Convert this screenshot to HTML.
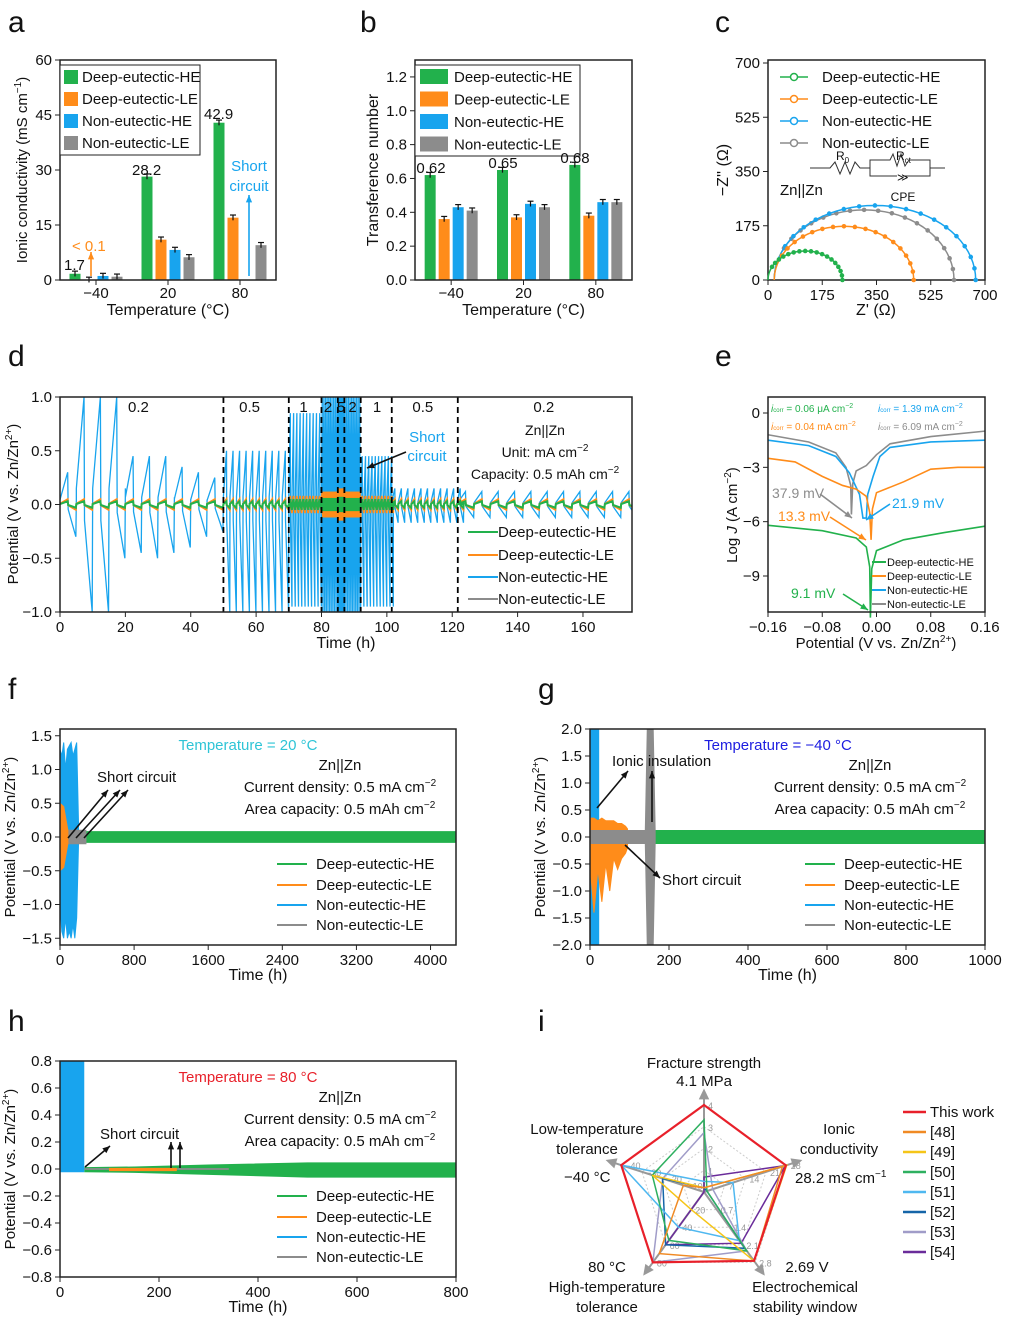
<!DOCTYPE html>
<html><head><meta charset="utf-8"><style>
body{margin:0;background:#fff}
svg{display:block;font-family:"Liberation Sans",sans-serif}
</style></head><body>
<svg id="fig" width="1009" height="1320" viewBox="0 0 1009 1320" xmlns="http://www.w3.org/2000/svg"></svg>
<script>
// ---------- data ----------
const tempCats=['−40','20','80'];
const condGreen=[1.7,28.2,42.9], condOrange=[0.05,11.0,17.0], condBlue=[1.1,8.2,0], condGray=[0.9,6.2,9.5];
const tnGreen=[0.62,0.65,0.68], tnOrange=[0.36,0.37,0.38], tnBlue=[0.43,0.45,0.46], tnGray=[0.41,0.43,0.46];
const eisStart=[0,20,20,20], eisEnd=[240,470,670,600], eisRatio=[0.78,0.77,0.74,0.78];
const segT0=[0,50,70,80,85,87,92,101.5,121.7], segT1=[50,70,80,85,87,92,101.5,121.7,175];
const segRate=[0.2,0.5,1,2,5,2,1,0.5,0.2];
const blueHiSeg=[0.4,0.5,0.85,1,1,1,0.45,0.15,0.12], blueLoSeg=[-0.4,-1,-0.95,-1,-1,-1,-0.95,-0.17,-0.12];
const blueHiFirst=[0.3,1,1,1,0.45,0.45,0.45,0.35,0.3,0.25], blueLoFirst=[-0.3,-1,-1,-0.5,-0.45,-0.5,-0.45,-0.4,-0.3,-0.25];
const greenAmp=[0.03,0.03,0.05,0.06,0.07,0.06,0.05,0.03,0.03], orangeAmp=[0.05,0.05,0.08,0.12,0.15,0.12,0.08,0.05,0.05], grayAmp=[0.04,0.05,0.07,0.09,0.09,0.09,0.07,0.04,0.04];
const tafGreen=[[-0.16,-6.2],[-0.08,-6.5],[-0.03,-6.9],[-0.015,-7.4],[-0.01,-8.5],[-0.009,-11.3],[-0.007,-8.6],[0,-7.6],[0.04,-7.0],[0.1,-6.6],[0.16,-6.25]];
const tafOrange=[[-0.16,-2.5],[-0.12,-2.7],[-0.08,-3.5],[-0.05,-4.0],[-0.03,-4.2],[-0.015,-4.6],[-0.01,-5.5],[-0.008,-7.0],[-0.006,-5.3],[0,-4.4],[0.04,-3.8],[0.08,-3.1],[0.12,-3.0],[0.16,-3.0]];
const tafBlue=[[-0.16,-1.5],[-0.1,-1.8],[-0.06,-2.4],[-0.04,-3.3],[-0.025,-4.5],[-0.02,-5.8],[-0.015,-5.8],[-0.013,-4.5],[-0.005,-3.5],[0.005,-2.4],[0.02,-1.9],[0.08,-1.6],[0.16,-1.5]];
const tafGray=[[-0.16,-1.2],[-0.1,-1.6],[-0.06,-2.2],[-0.045,-3.0],[-0.038,-4.0],[-0.037,-5.6],[-0.035,-3.9],[-0.03,-3.2],[-0.015,-2.9],[0,-2.3],[0.02,-1.7],[0.08,-1.3],[0.16,-1.0]];
const fGreenT=[40,4275], fGreenHi=[0.08,0.08], fGreenLo=[-0.08,-0.08];
const fBlueT=[0,20,40,60,80,100,120,140,160,180,200], fBlueHi=[1.3,1.2,1.4,1.0,1.3,1.35,1.4,1.2,1.3,1.4,0.2], fBlueLo=[-1.0,-1.4,-1.5,-1.2,-1.5,-1.4,-1.5,-1.3,-1.5,-1.2,-0.1];
const fOrangeT=[0,40,85], fOrangeHi=[0.5,0.45,0.1], fOrangeLo=[-0.5,-0.45,-0.1];
const fGrayT=[0,280], fGrayHi=[0.1,0.1], fGrayLo=[-0.1,-0.1];
const gGreenT=[0,1000], gGreenHi=[0.12,0.12], gGreenLo=[-0.12,-0.12];
const gBlueT=[0,22], gBlueHi=[2,2], gBlueLo=[-2,-2];
const gOrangeT=[0,10,20,30,40,50,60,70,80,90,95], gOrangeHi=[0.35,0.35,0.3,0.35,0.3,0.3,0.3,0.25,0.25,0.2,0.15], gOrangeLo=[-0.5,-1.4,-0.6,-1.2,-0.5,-1.0,-0.4,-0.6,-0.4,-0.3,-0.2];
const gGrayT=[0,140,145,160,165], gGrayHi=[0.12,0.12,2,2,0.12], gGrayLo=[-0.12,-0.12,-2,-2,-0.12];
const hGreenT=[50,150,300,500,800], hGreenHi=[0.01,0.015,0.03,0.045,0.045], hGreenLo=[-0.02,-0.025,-0.04,-0.06,-0.06];
const hBlueT=[0,48], hBlueHi=[0.8,0.8], hBlueLo=[-0.02,-0.02];
const hOrangeT=[100,235], hOrangeHi=[0.005,0.005], hOrangeLo=[-0.012,-0.012];
const hGrayT=[0,340], hGrayHi=[0.003,0.003], hGrayLo=[-0.003,-0.003];
const radarAxes=['Fracture strength','Ionic conductivity','Electrochemical stability window','High-temperature tolerance','Low-temperature tolerance'];
const radarMax=[4.1,28.5,2.75,80,40];
const radarNames=['This work','[48]','[49]','[50]','[51]','[52]','[53]','[54]'];
const radarColors=['#e8202a','#f08a24','#f5c518','#2eb060','#4fb8f0','#1565a8','#a09cc8','#6a2c9a'];
const radarVals=[[4.1,28.2,2.69,80,40],[0.2,27,2.7,70,10],[0.2,28.5,2.7,20,25],[3.4,1,2.3,55,25],[0.5,10,1.9,40,40],[0.2,1,2.2,60,20],[2.8,3,2.3,80,20],[0.7,28,2.0,60,0]];

const C={g:'#22b14c',o:'#ff8c1a',b:'#18a4ee',k:'#8c8c8c'};
const NS='http://www.w3.org/2000/svg';
const svg=document.getElementById('fig');
function add(p,tag,attrs,name){
  const el=document.createElementNS(NS,tag);
  for(const k in attrs) el.setAttribute(k,attrs[k]);
  
  
  p.appendChild(el);return el;
}
function text(p,x,y,s,o,name){
  o=o||{};
  const t=add(p,'text',{x:x,y:y,'font-size':o.size||15,fill:o.fill||'#111','text-anchor':o.anchor||'start'},name);
  if(o.rot) t.setAttribute('transform','rotate(-90 '+x+' '+y+')');
  t.innerHTML=s;return t;
}
function lin(d0,d1,r0,r1){return v=>r0+(v-d0)*(r1-r0)/(d1-d0);}
function frame(g,x0,x1,y0,y1,name){add(g,'rect',{x:x0,y:y0,width:x1-x0,height:y1-y0,fill:'none',stroke:'#222','stroke-width':1.5},name);}
function xticks(g,sx,vals,labels,y1,name){vals.forEach((v,i)=>{add(g,'line',{x1:sx(v),x2:sx(v),y1:y1,y2:y1+5,stroke:'#222'},name+'-tick');text(g,sx(v),y1+20,labels[i],{anchor:'middle'},name+'-label');});}
function yticks(g,sy,vals,labels,x0,name){vals.forEach((v,i)=>{add(g,'line',{x1:x0-5,x2:x0,y1:sy(v),y2:sy(v),stroke:'#222'},name+'-tick');text(g,x0-8,sy(v)+5,labels[i],{anchor:'end'},name+'-label');});}
function arrow(g,x1,y1,x2,y2,col,name){
  add(g,'line',{x1:x1,y1:y1,x2:x2,y2:y2,stroke:col,'stroke-width':1.6},name);
  const a=Math.atan2(y2-y1,x2-x1),L=8;
  const p=[[x2,y2],[x2-L*Math.cos(a-0.4),y2-L*Math.sin(a-0.4)],[x2-L*Math.cos(a+0.4),y2-L*Math.sin(a+0.4)]];
  add(g,'polygon',{points:p.map(q=>q.join(',')).join(' '),fill:col},name+'-head');
}
function band(g,sx,sy,T,H,L,col,name){
  let pts=T.map((t,i)=>sx(t)+','+sy(H[i]));
  for(let i=T.length-1;i>=0;i--) pts.push(sx(T[i])+','+sy(L[i]));
  add(g,'polygon',{points:pts.join(' '),fill:col,stroke:col,'stroke-width':1},name);
}
const legNames=['Deep-eutectic-HE','Deep-eutectic-LE','Non-eutectic-HE','Non-eutectic-LE'];
const legCols=[C.g,C.o,C.b,C.k];
function lineLegend(g,x,ys,xt,name){legNames.forEach((n,i)=>{add(g,'line',{x1:x,x2:x+30,y1:ys[i],y2:ys[i],stroke:legCols[i],'stroke-width':2},name+'-line');text(g,xt,ys[i]+5,n,{},name+'-text');});}

// letters
[['a',8,32],['b',360,32],['c',715,32],['d',8,366],['e',715,366],['f',8,699],['g',538,699],['h',8,1031],['i',538,1031]].forEach(l=>text(svg,l[1],l[2],l[0],{size:30},'panel-letter-'+l[0]));

// ---------- bar panels ----------
function barPanel(x0,x1,y0,y1,dom,yt,ytl,series,name){
  const g=add(svg,'g',{},name);
  const sy=lin(0,dom,y1,y0);const bw=(x1-x0)/3;
  const cols=[C.g,C.o,C.b,C.k];const offs=[-21,-7,7,21];
  series.forEach((s,si)=>s.forEach((v,i)=>{
    if(v<=0) return;
    const cx=x0+(i+0.5)*bw+offs[si];
    add(g,'rect',{x:cx-5.5,y:sy(v),width:11,height:y1-sy(v),fill:cols[si]},name+'-bar');
    const e=dom*0.012;
    add(g,'line',{x1:cx,x2:cx,y1:sy(v+e),y2:sy(v-e),stroke:'#111','stroke-width':1.2},name+'-errorbar');
    add(g,'line',{x1:cx-3,x2:cx+3,y1:sy(v+e),y2:sy(v+e),stroke:'#111','stroke-width':1.2},name+'-errorcap');
  }));
  frame(g,x0,x1,y0,y1,name+'-frame');
  tempCats.forEach((c,i)=>{const cx=x0+(i+0.5)*bw;add(g,'line',{x1:cx,x2:cx,y1:y1,y2:y1+5,stroke:'#222'},name+'-xtick');text(g,cx,y1+18,c,{anchor:'middle'},name+'-xlabel');});
  yticks(g,sy,yt,ytl,x0,name+'-y');
  text(g,(x0+x1)/2,y1+35,'Temperature (°C)',{anchor:'middle',size:16},name+'-x-title');
  return {g,sy};
}
let A=barPanel(60,276,60,280,60,[0,15,30,45,60],['0','15','30','45','60'],[condGreen,condOrange,condBlue,condGray],'panel-a');
text(A.g,27,170,'Ionic conductivity (mS cm<tspan dy="-6" font-size="10">−1</tspan><tspan dy="6">)</tspan>',{rot:1,anchor:'middle',size:15},'a-y-title');
add(A.g,'rect',{x:60,y:65,width:140,height:90,fill:'#fff',stroke:'#222'},'a-legend-box');
legNames.forEach((n,i)=>{add(A.g,'rect',{x:64,y:70+i*22,width:14,height:14,fill:legCols[i]},'a-legend-swatch');text(A.g,82,82+i*22,n,{},'a-legend-text');});
text(A.g,64,270,'1.7',{},'a-value-label');text(A.g,132,175,'28.2',{},'a-value-label');text(A.g,204,119,'42.9',{},'a-value-label');
text(A.g,72,251,'&lt; 0.1',{fill:C.o},'a-annotation');arrow(A.g,91,276,91,252,C.o,'a-arrow');
text(A.g,249,171,'Short',{fill:C.b,anchor:'middle'},'a-annotation');text(A.g,249,191,'circuit',{fill:C.b,anchor:'middle'},'a-annotation');arrow(A.g,249,276,249,195,C.b,'a-arrow');

let B=barPanel(415,632,60,280,1.3,[0,0.2,0.4,0.6,0.8,1.0,1.2],['0.0','0.2','0.4','0.6','0.8','1.0','1.2'],[tnGreen,tnOrange,tnBlue,tnGray],'panel-b');
text(B.g,378,170,'Transference number',{rot:1,anchor:'middle',size:16},'b-y-title');
add(B.g,'rect',{x:415,y:65,width:165,height:91,fill:'#fff',stroke:'#222'},'b-legend-box');
legNames.forEach((n,i)=>{add(B.g,'rect',{x:420,y:69+i*22.5,width:28,height:15,fill:legCols[i]},'b-legend-swatch');text(B.g,454,82+i*22.5,n,{},'b-legend-text');});
text(B.g,431,173,'0.62',{anchor:'middle'},'b-value-label');text(B.g,503,168,'0.65',{anchor:'middle'},'b-value-label');text(B.g,575,163,'0.68',{anchor:'middle'},'b-value-label');

// ---------- panel c ----------
(function(){
  const g=add(svg,'g',{},'panel-c');const sx=lin(0,700,768,985),sy=lin(0,700,280,63);
  frame(g,768,985,60,280,'c-frame');
  xticks(g,sx,[0,175,350,525,700],['0','175','350','525','700'],280,'c-x');
  yticks(g,sy,[0,175,350,525,700],['0','175','350','525','700'],768,'c-y');
  text(g,876,315,"Z' (Ω)",{anchor:'middle',size:16},'c-x-title');
  text(g,728,170,"−Z'' (Ω)",{rot:1,anchor:'middle',size:16},'c-y-title');
  const cols=[C.g,C.o,C.b,C.k];
  [3,2,1,0].forEach(i=>{
    const r=(eisEnd[i]-eisStart[i])/2,c=eisStart[i]+r;let pts=[],mk=[];
    for(let k=0;k<=40;k++){const a=Math.PI-k*Math.PI/40;const x=c+r*Math.cos(a),y=r*eisRatio[i]*Math.sin(a);pts.push(sx(x)+','+sy(y));if(k%2==0&&k>4)mk.push([sx(x),sy(y)]);}
    add(g,'polyline',{points:pts.join(' '),fill:'none',stroke:cols[i],'stroke-width':1.5},'c-nyquist-line');
    mk.forEach(m=>add(g,'circle',{cx:m[0],cy:m[1],r:2.3,fill:cols[i]},'c-nyquist-point'));
  });
  legNames.forEach((n,i)=>{const y=77+i*22;add(g,'line',{x1:780,x2:808,y1:y,y2:y,stroke:legCols[i],'stroke-width':1.5},'c-legend-line');add(g,'circle',{cx:794,cy:y,r:3.5,fill:'#fff',stroke:legCols[i],'stroke-width':1.5},'c-legend-marker');text(g,822,y+5,n,{},'c-legend-text');});
  add(g,'polyline',{points:'810,168 830,168 835,162 840,174 845,162 850,174 855,162 860,168 870,168 870,160 890,160 893,154 897,166 901,154 905,166 909,160 930,160 930,168 945,168 M870,168',fill:'none',stroke:'#333'},'c-circuit');
  add(g,'polyline',{points:'870,168 870,176 897,176 M903,176',fill:'none',stroke:'#333'},'c-circuit');
  add(g,'polyline',{points:'903,176 930,176 930,168',fill:'none',stroke:'#333'},'c-circuit');
  text(g,897,181,'≫',{size:11},'c-cpe-symbol');
  text(g,836,160,'R<tspan font-size="8" dy="3">0</tspan>',{size:12,anchor:'start'},'c-r0-label');
  text(g,896,160,'R<tspan font-size="8" dy="3">ct</tspan>',{size:12},'c-rct-label');
  text(g,903,201,'CPE',{size:12,anchor:'middle'},'c-cpe-label');
  text(g,780,195,'Zn||Zn',{},'c-cell-label');
})();

// ---------- panel d ----------
(function(){
  const g=add(svg,'g',{},'panel-d');const sx=lin(0,175,60,632),sy=lin(-1,1,612,397);
  add(g,'clipPath',{id:'clipd'},'d-clip').innerHTML='<rect x="60" y="397" width="572" height="215"/>';
  const gc=add(g,'g',{'clip-path':'url(#clipd)'},'d-series');
  function wave(hiF,loF,col,name,w){
    let pts=[];
    segT0.forEach((t0,s)=>{
      const P=1/segRate[s];let t=t0,c=0;
      while(t<segT1[s]-1e-6){
        const hi=hiF(s,c),lo=loF(s,c);
        pts.push([t,hi*0.15],[t+0.47*P,hi],[t+0.5*P,lo*0.15],[t+0.97*P,lo],[t+P,hi*0.15]);
        t+=P;c++;
      }
    });
    add(gc,'polyline',{points:pts.map(p=>sx(p[0])+','+sy(p[1])).join(' '),fill:'none',stroke:col,'stroke-width':w||1.3},name);
  }
  wave((s,c)=>s==0?blueHiFirst[c]:blueHiSeg[s],(s,c)=>s==0?blueLoFirst[c]:blueLoSeg[s],C.b,'d-series-non-eutectic-HE',1.3);
  wave((s)=>grayAmp[s],(s)=>-grayAmp[s],C.k,'d-series-non-eutectic-LE',1.5);
  wave((s)=>orangeAmp[s],(s)=>-orangeAmp[s],C.o,'d-series-deep-eutectic-LE',1.8);
  wave((s)=>greenAmp[s],(s)=>-greenAmp[s],C.g,'d-series-deep-eutectic-HE',2);
  [50,70,80,85,87,92,101.5,121.7].forEach(t=>add(g,'line',{x1:sx(t),x2:sx(t),y1:397,y2:612,stroke:'#000','stroke-width':1.8,'stroke-dasharray':'6,4'},'d-rate-divider'));
  [['0.2',24],['0.5',58],['1',74.5],['2',82],['5',86],['2',89.5],['1',97],['0.5',111],['0.2',148]].forEach(l=>text(g,sx(l[1]),412,l[0],{anchor:'middle'},'d-rate-label'));
  frame(g,60,632,397,612,'d-frame');
  xticks(g,sx,[0,20,40,60,80,100,120,140,160],['0','20','40','60','80','100','120','140','160'],612,'d-x');
  yticks(g,sy,[-1,-0.5,0,0.5,1],['−1.0','−0.5','0.0','0.5','1.0'],60,'d-y');
  text(g,346,648,'Time (h)',{anchor:'middle',size:16},'d-x-title');
  text(g,18,504,'Potential  (V vs. Zn/Zn<tspan dy="-6" font-size="10">2+</tspan><tspan dy="6">)</tspan>',{rot:1,anchor:'middle'},'d-y-title');
  text(g,545,435,'Zn||Zn',{anchor:'middle',size:14},'d-cell-label');
  text(g,545,457,'Unit: mA cm<tspan dy="-6" font-size="10">−2</tspan>',{anchor:'middle',size:14},'d-unit-label');
  text(g,545,479,'Capacity: 0.5 mAh cm<tspan dy="-6" font-size="10">−2</tspan>',{anchor:'middle',size:14},'d-capacity-label');
  text(g,427,442,'Short',{fill:C.b,anchor:'middle'},'d-annotation');text(g,427,461,'circuit',{fill:C.b,anchor:'middle'},'d-annotation');
  arrow(g,406,452,367,468,'#111','d-arrow');
  lineLegend(g,468,[532,555,577,599],498,'d-legend');
})();

// ---------- panel e ----------
(function(){
  const g=add(svg,'g',{},'panel-e');const sx=lin(-0.16,0.16,768,985),sy=lin(0,-9,413,576);
  [[tafGray,C.k],[tafBlue,C.b],[tafOrange,C.o],[tafGreen,C.g]].forEach((s,i)=>add(g,'polyline',{points:s[0].map(p=>sx(p[0])+','+sy(p[1])).join(' '),fill:'none',stroke:s[1],'stroke-width':1.6},'e-tafel-curve'));
  frame(g,768,985,397,612,'e-frame');
  xticks(g,sx,[-0.16,-0.08,0,0.08,0.16],['−0.16','−0.08','0.00','0.08','0.16'],612,'e-x');
  yticks(g,sy,[0,-3,-6,-9],['0','−3','−6','−9'],768,'e-y');
  text(g,876,648,'Potential  (V vs. Zn/Zn<tspan dy="-6" font-size="10">2+</tspan><tspan dy="6">)</tspan>',{anchor:'middle'},'e-x-title');
  text(g,737,515,'Log <tspan font-style="italic">J</tspan> (A cm<tspan dy="-6" font-size="10">−2</tspan><tspan dy="6">)</tspan>',{rot:1,anchor:'middle'},'e-y-title');
  text(g,771,412,'<tspan font-style="italic">i</tspan><tspan font-size="6">corr</tspan> = 0.06 μA cm<tspan dy="-4" font-size="7">−2</tspan>',{size:10,fill:C.g},'e-icorr-label');
  text(g,878,412,'<tspan font-style="italic">i</tspan><tspan font-size="6">corr</tspan> = 1.39 mA cm<tspan dy="-4" font-size="7">−2</tspan>',{size:10,fill:C.b},'e-icorr-label');
  text(g,771,430,'<tspan font-style="italic">i</tspan><tspan font-size="6">corr</tspan> = 0.04 mA cm<tspan dy="-4" font-size="7">−2</tspan>',{size:10,fill:C.o},'e-icorr-label');
  text(g,878,430,'<tspan font-style="italic">i</tspan><tspan font-size="6">corr</tspan> = 6.09 mA cm<tspan dy="-4" font-size="7">−2</tspan>',{size:10,fill:C.k},'e-icorr-label');
  text(g,772,498,'37.9 mV',{size:14,fill:C.k},'e-ocp-label');arrow(g,820,494,852,518,C.k,'e-arrow');
  text(g,778,521,'13.3 mV',{size:14,fill:C.o},'e-ocp-label');arrow(g,830,517,866,540,C.o,'e-arrow');
  text(g,892,508,'21.9 mV',{size:14,fill:C.b},'e-ocp-label');arrow(g,890,504,866,520,C.b,'e-arrow');
  text(g,791,598,'9.1 mV',{size:14,fill:C.g},'e-ocp-label');arrow(g,843,594,868,610,C.g,'e-arrow');
  legNames.forEach((n,i)=>{const y=562+i*14;add(g,'line',{x1:872,x2:886,y1:y,y2:y,stroke:legCols[i],'stroke-width':2},'e-legend-line');text(g,887,y+4,n,{size:11},'e-legend-text');});
})();

// ---------- cycling panels ----------
function cyc(name,x0,x1,y0,y1,xd,yd,xt,xtl,yt,ytl,bands,temp,tcol,infoX,legX){
  const g=add(svg,'g',{},name);const sx=lin(xd[0],xd[1],x0,x1),sy=lin(yd[0],yd[1],y1,y0);
  const cid=name+'-clip';add(g,'clipPath',{id:cid},name+'-clip').innerHTML='<rect x="'+x0+'" y="'+y0+'" width="'+(x1-x0)+'" height="'+(y1-y0)+'"/>';
  const gc=add(g,'g',{'clip-path':'url(#'+cid+')'},name+'-series');
  bands.forEach(b=>band(gc,sx,sy,b[0],b[1],b[2],b[3],name+'-'+b[4]));
  frame(g,x0,x1,y0,y1,name+'-frame');
  xticks(g,sx,xt,xtl,y1,name+'-x');yticks(g,sy,yt,ytl,x0,name+'-y');
  text(g,(x0+x1)/2,y1+35,'Time (h)',{anchor:'middle',size:16},name+'-x-title');
  text(g,x0-45,(y0+y1)/2,'Potential  (V vs. Zn/Zn<tspan dy="-6" font-size="10">2+</tspan><tspan dy="6">)</tspan>',{rot:1,anchor:'middle'},name+'-y-title');
  text(g,infoX-92,y0+21,'Temperature  = '+temp,{anchor:'middle',fill:tcol},name+'-temperature');
  text(g,infoX,y0+41,'Zn||Zn',{anchor:'middle'},name+'-cell');
  text(g,infoX,y0+63,'Current density:  0.5 mA cm<tspan dy="-6" font-size="10">−2</tspan>',{anchor:'middle'},name+'-current');
  text(g,infoX,y0+85,'Area capacity:  0.5 mAh cm<tspan dy="-6" font-size="10">−2</tspan>',{anchor:'middle'},name+'-capacity');
  lineLegend(g,legX,[y0+135,y0+156,y0+176,y0+196],legX+39,name+'-legend');
  return g;
}
const F=cyc('panel-f',60,456,729,945,[0,4275],[-1.6,1.6],[0,800,1600,2400,3200,4000],['0','800','1600','2400','3200','4000'],[-1.5,-1,-0.5,0,0.5,1,1.5],['−1.5','−1.0','−0.5','0.0','0.5','1.0','1.5'],
 [[fGreenT,fGreenHi,fGreenLo,C.g,'deep-eutectic-HE'],[fBlueT,fBlueHi,fBlueLo,C.b,'non-eutectic-HE'],[fGrayT,fGrayHi,fGrayLo,C.k,'non-eutectic-LE'],[fOrangeT,fOrangeHi,fOrangeLo,C.o,'deep-eutectic-LE']],'20 °C','#2ec4d6',340,277);
text(F,97,782,'Short circuit',{},'f-annotation');
arrow(F,68,838,108,790,'#111','f-arrow');arrow(F,76,838,120,790,'#111','f-arrow');arrow(F,84,838,128,790,'#111','f-arrow');
const G=cyc('panel-g',590,985,729,945,[0,1000],[-2,2],[0,200,400,600,800,1000],['0','200','400','600','800','1000'],[-2,-1.5,-1,-0.5,0,0.5,1,1.5,2],['−2.0','−1.5','−1.0','−0.5','0.0','0.5','1.0','1.5','2.0'],
 [[gGreenT,gGreenHi,gGreenLo,C.g,'deep-eutectic-HE'],[gBlueT,gBlueHi,gBlueLo,C.b,'non-eutectic-HE'],[gOrangeT,gOrangeHi,gOrangeLo,C.o,'deep-eutectic-LE'],[gGrayT,gGrayHi,gGrayLo,C.k,'non-eutectic-LE']],'−40 °C','#1d1de0',870,805);
text(G,612,766,'Ionic insulation',{},'g-annotation');arrow(G,597,808,628,771,'#111','g-arrow');arrow(G,652,822,652,771,'#111','g-arrow');
text(G,662,885,'Short circuit',{},'g-annotation');arrow(G,625,845,660,878,'#111','g-arrow');
const H=cyc('panel-h',60,456,1061,1277,[0,800],[-0.8,0.8],[0,200,400,600,800],['0','200','400','600','800'],[-0.8,-0.6,-0.4,-0.2,0,0.2,0.4,0.6,0.8],['−0.8','−0.6','−0.4','−0.2','0.0','0.2','0.4','0.6','0.8'],
 [[hGreenT,hGreenHi,hGreenLo,C.g,'deep-eutectic-HE'],[hGrayT,hGrayHi,hGrayLo,C.k,'non-eutectic-LE'],[hOrangeT,hOrangeHi,hOrangeLo,C.o,'deep-eutectic-LE'],[hBlueT,hBlueHi,hBlueLo,C.b,'non-eutectic-HE']],'80 °C','#e8202a',340,277);
text(H,100,1139,'Short circuit',{},'h-annotation');arrow(H,85,1167,110,1146,'#111','h-arrow');arrow(H,171,1168,171,1142,'#111','h-arrow');arrow(H,180,1168,180,1142,'#111','h-arrow');

// ---------- panel i radar ----------
(function(){
  const g=add(svg,'g',{},'panel-i');const cx=704,cy=1192,R=87;
  const ang=radarAxes.map((a,i)=>(-90+72*i)*Math.PI/180);
  const pt=(i,f)=>[cx+R*f*Math.cos(ang[i]),cy+R*f*Math.sin(ang[i])];
  [0.25,0.5,0.75,1].forEach(f=>add(g,'polygon',{points:ang.map((a,i)=>pt(i,f).join(',')).join(' '),fill:'none',stroke:'#ccc','stroke-dasharray':'2,2'},'i-grid'));
  ang.forEach((a,i)=>{const e=pt(i,1.12);add(g,'line',{x1:cx,y1:cy,x2:e[0],y2:e[1],stroke:'#999','stroke-width':2},'i-axis');
    const L=12,p=[[e[0]+6*Math.cos(a),e[1]+6*Math.sin(a)],[e[0]-L*Math.cos(a-0.45)+6*Math.cos(a),e[1]-L*Math.sin(a-0.45)+6*Math.sin(a)],[e[0]-L*Math.cos(a+0.45)+6*Math.cos(a),e[1]-L*Math.sin(a+0.45)+6*Math.sin(a)]];
    add(g,'polygon',{points:p.map(q=>q.join(',')).join(' '),fill:'#999'},'i-axis-head');});
  const tl=[['1','2','3','4'],['7','14','21','28'],['0.7','1.4','2.1','2.8'],['20','40','60','80'],['−10','−20','−30','−40']];
  tl.forEach((arr,i)=>arr.forEach((s,k)=>{const p=pt(i,(k+1)/4);text(g,p[0]+4,p[1]+4,s,{size:9,fill:'#999'},'i-tick-label');}));
  for(let s=radarVals.length-1;s>=0;s--){
    add(g,'polygon',{points:radarVals[s].map((v,i)=>pt(i,Math.min(v/radarMax[i],1.02)).join(',')).join(' '),fill:'none',stroke:radarColors[s],'stroke-width':s==0?2.2:1.5},'i-series-'+radarNames[s]);
  }
  text(g,704,1068,'Fracture strength',{anchor:'middle'},'i-axis-label');text(g,704,1086,'4.1 MPa',{anchor:'middle'},'i-axis-value');
  text(g,839,1134,'Ionic',{anchor:'middle'},'i-axis-label');text(g,839,1154,'conductivity',{anchor:'middle'},'i-axis-label');
  text(g,795,1183,'28.2 mS cm<tspan dy="-6" font-size="10">−1</tspan>',{},'i-axis-value');
  text(g,587,1134,'Low-temperature',{anchor:'middle'},'i-axis-label');text(g,587,1154,'tolerance',{anchor:'middle'},'i-axis-label');
  text(g,564,1182,'−40 °C',{},'i-axis-value');
  text(g,607,1272,'80 °C',{anchor:'middle'},'i-axis-value');text(g,607,1292,'High-temperature',{anchor:'middle'},'i-axis-label');text(g,607,1312,'tolerance',{anchor:'middle'},'i-axis-label');
  text(g,807,1272,'2.69 V',{anchor:'middle'},'i-axis-value');text(g,805,1292,'Electrochemical',{anchor:'middle'},'i-axis-label');text(g,805,1312,'stability window',{anchor:'middle'},'i-axis-label');
  radarNames.forEach((n,i)=>{const y=1112+i*20;add(g,'line',{x1:903,x2:926,y1:y,y2:y,stroke:radarColors[i],'stroke-width':2.5},'i-legend-line');text(g,930,y+5,n,{},'i-legend-text');});
})();
</script>
</body></html>
